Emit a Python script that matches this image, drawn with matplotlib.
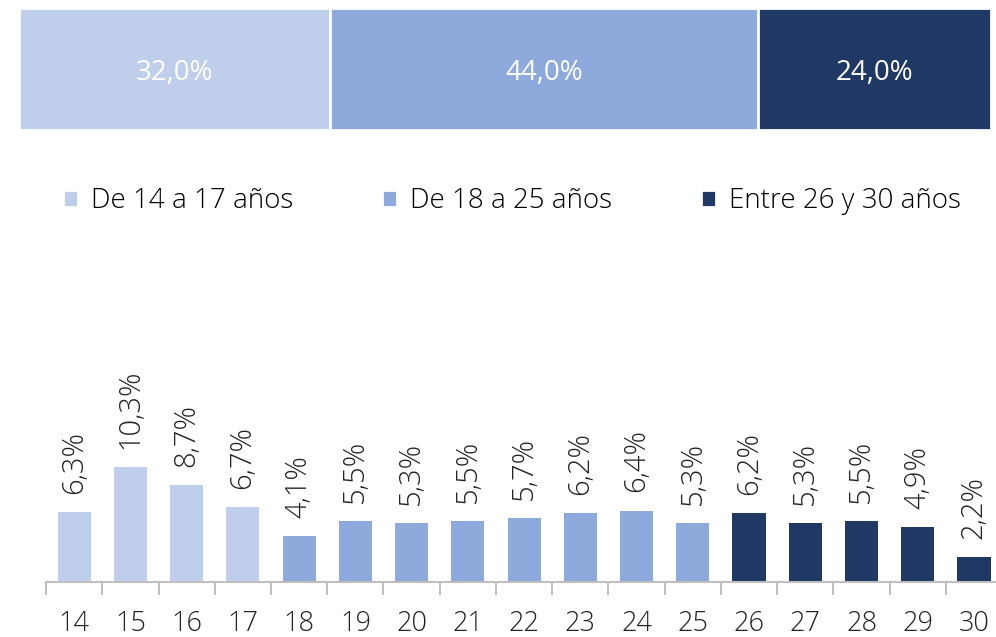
import matplotlib.pyplot as plt

OUTPUT = 'out.png'

GROUPS = ['De 14 a 17 años', 'De 18 a 25 años', 'Entre 26 y 30 años']
GROUP_SHARES = [32.0, 44.0, 24.0]
COLORS = ['#BFCEEA', '#8EA9DB', '#203864']

AGES = list(range(14, 31))
AGE_SHARES = [6.3, 10.3, 8.7, 6.7, 4.1, 5.5, 5.3, 5.5, 5.7, 6.2, 6.4, 5.3,
              6.2, 5.3, 5.5, 4.9, 2.2]


def color_for(age):
    if age <= 17:
        return COLORS[0]
    if age <= 25:
        return COLORS[1]
    return COLORS[2]


def fmt(v):
    return f"{v:.1f}%".replace('.', ',')


def main():
    plt.rcParams['font.family'] = ['Open Sans', 'DejaVu Sans']
    plt.rcParams['font.size'] = 20
    plt.rcParams['font.weight'] = 300  # thin strokes like the original

    fig = plt.figure(figsize=(9.96, 6.37), dpi=100)

    # Stacked bar with the three age groups
    ax_top = plt.axes([0.0191, 0.796, 0.976, 0.1915])
    left = 0
    handles = []
    for name, share, col in zip(GROUPS, GROUP_SHARES, COLORS):
        b = plt.barh(0, share, left=left, height=1.0, color=col,
                     edgecolor='white', linewidth=2, label=name)
        handles.append(b)
        plt.text(left + share / 2, -0.03, fmt(share), color='white',
                 ha='center', va='center', fontsize=20, fontweight='normal')
        left += share
    plt.xlim(0, 100)
    plt.ylim(-0.5, 0.5)
    plt.axis('off')

    fig.legend(handles=handles, labels=GROUPS, loc='center',
               bbox_to_anchor=(0.514, 0.684), ncol=3, frameon=False,
               handlelength=0.55, handleheight=0.55, handletextpad=0.45,
               columnspacing=3.2, fontsize=20)

    # Bars by single age
    ax = plt.axes([0.0462, 0.0863, 0.960, 0.4427])
    xs = range(len(AGES))
    plt.bar(xs, AGE_SHARES, width=0.59, color=[color_for(a) for a in AGES])
    for x, v in zip(xs, AGE_SHARES):
        plt.annotate(fmt(v), (x, v), xytext=(0, 13), textcoords='offset points',
                     rotation=90, ha='center', va='bottom', fontsize=21,
                     color='#222222')
    plt.xlim(-0.5, len(AGES) - 0.5)
    plt.ylim(0, 25.25)
    plt.xticks(list(xs), [str(a) for a in AGES])
    ax.set_xticks([i - 0.5 for i in range(len(AGES) + 1)], minor=True)
    ax.tick_params(axis='x', which='major', length=0, pad=20, labelsize=19.5,
                   labelcolor='#222222')
    ax.tick_params(axis='x', which='minor', length=9, width=1.5,
                   color='#BFBFBF', direction='out')
    plt.yticks([])
    for side in ['top', 'right', 'left']:
        ax.spines[side].set_visible(False)
    ax.spines['bottom'].set_color('#BFBFBF')
    ax.spines['bottom'].set_linewidth(1.5)

    plt.savefig(OUTPUT, dpi=100)


if __name__ == "__main__":
    main()
